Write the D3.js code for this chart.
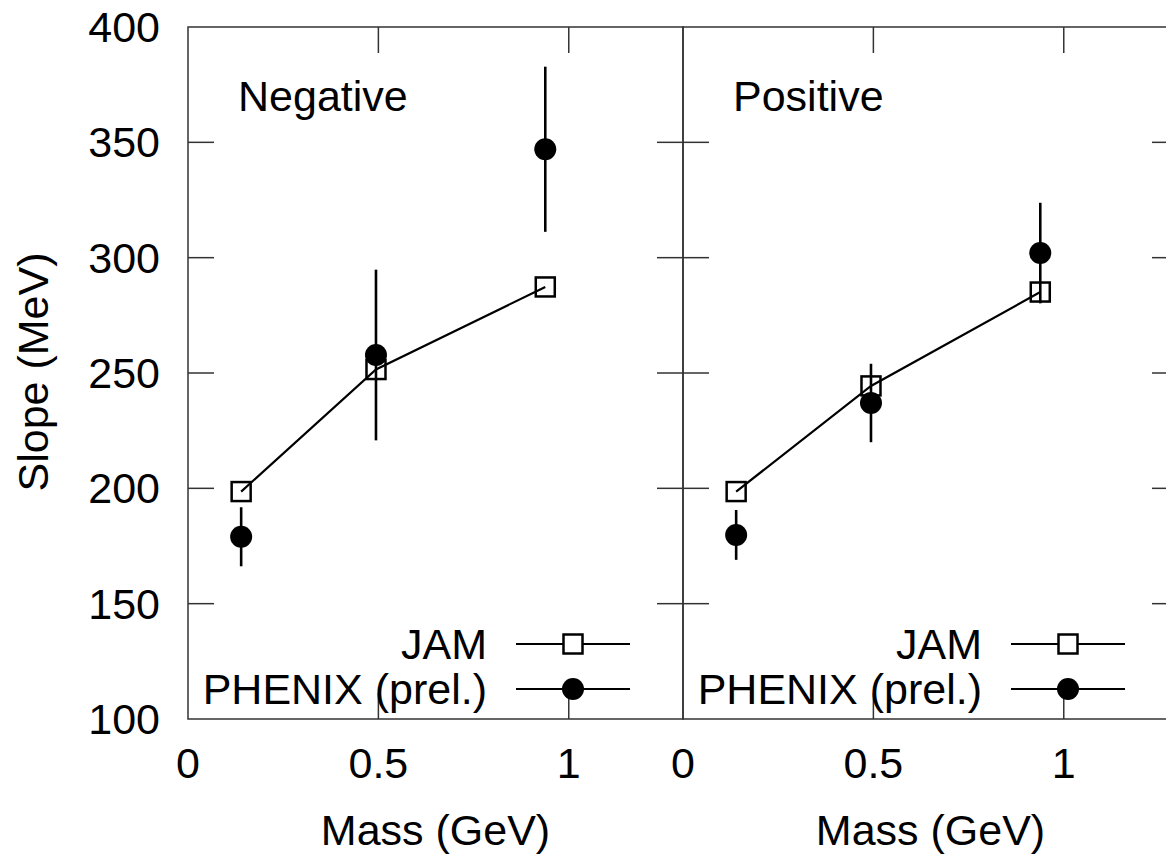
<!DOCTYPE html>
<html>

<head>
    <meta charset="utf-8">
    <title>Slope vs Mass</title>
    <script src="https://cdnjs.cloudflare.com/ajax/libs/d3/7.8.5/d3.min.js"></script>
    <style type="text/css">
    body {
        margin: 0;
        background: #fff;
    }
    svg text {
        font-family: "Liberation Sans", Arial, sans-serif;
        font-size: 43px;
        fill: #000;
    }
    .frame {
        fill: none;
        stroke: #333;
        stroke-width: 1.5px;
    }
    .tick-line {
        stroke: #333;
        stroke-width: 1.5px;
    }
    .jam-line {
        fill: none;
        stroke: #000;
        stroke-width: 2.2px;
    }
    </style>
</head>

<body>

</body>

<script>

// particle masses (GeV): pion, kaon, proton
var mass = [0.1396, 0.4937, 0.9383];

// negative particles
var negJAM = [198.6, 251.5, 287.3];
var negPHENIX = [179, 257.8, 347];
var negErr = [12.8, 37, 35.8];

// positive particles
var posJAM = [198.6, 244.4, 285.1];
var posPHENIX = [179.8, 237, 302];
var posErr = [10.8, 17, 21.8];

var panelTitles = ["Negative", "Positive"];
var xTicks = [0, 0.5, 1];
var yTicks = [100, 150, 200, 250, 300, 350, 400];
var legendLabels = ["JAM", "PHENIX (prel.)"];

var svg = d3.select("body").append("svg")
    .attr("width", 1166)
    .attr("height", 855);

var top0 = 27,
    bottom0 = 719,
    panelW = 495,
    tickLen = 26;

var y = d3.scaleLinear()
    .domain([100, 400])
    .range([bottom0, top0]);

var panels = [
    { x0: 188, title: panelTitles[0], jam: negJAM, phenix: negPHENIX, err: negErr },
    { x0: 683, title: panelTitles[1], jam: posJAM, phenix: posPHENIX, err: posErr }
];

var line = d3.line();

panels.forEach(function(p, pi) {
    var x = d3.scaleLinear()
        .domain([0, 1.3])
        .range([p.x0, p.x0 + panelW]);

    var g = svg.append("g");

    // frame
    g.append("rect")
        .attr("class", "frame")
        .attr("x", p.x0)
        .attr("y", top0)
        .attr("width", panelW)
        .attr("height", bottom0 - top0);

    // y ticks, inward on both sides
    yTicks.forEach(function(t) {
        if (t == 100 || t == 400) return;
        g.append("line").attr("class", "tick-line")
            .attr("x1", p.x0).attr("x2", p.x0 + tickLen)
            .attr("y1", y(t)).attr("y2", y(t));
        g.append("line").attr("class", "tick-line")
            .attr("x1", p.x0 + panelW - tickLen).attr("x2", p.x0 + panelW)
            .attr("y1", y(t)).attr("y2", y(t));
    });

    // y tick labels only on the left panel
    if (pi == 0) {
        g.selectAll(".ylab")
            .data(yTicks)
            .enter().append("text")
            .attr("x", 160)
            .attr("y", function(d) { return y(d) + 15; })
            .attr("text-anchor", "end")
            .text(function(d) { return d; });
    }

    // x ticks top and bottom
    xTicks.forEach(function(t) {
        if (t == 0) return;
        g.append("line").attr("class", "tick-line")
            .attr("x1", x(t)).attr("x2", x(t))
            .attr("y1", bottom0).attr("y2", bottom0 - tickLen);
        g.append("line").attr("class", "tick-line")
            .attr("x1", x(t)).attr("x2", x(t))
            .attr("y1", top0).attr("y2", top0 + tickLen);
    });

    g.selectAll(".xlab")
        .data(xTicks)
        .enter().append("text")
        .attr("x", function(d) { return x(d); })
        .attr("y", 778)
        .attr("text-anchor", "middle")
        .text(function(d) { return d; });

    g.append("text")
        .attr("x", p.x0 + panelW / 2)
        .attr("y", 845)
        .attr("text-anchor", "middle")
        .text("Mass (GeV)");

    g.append("text")
        .attr("x", p.x0 + 50)
        .attr("y", 111)
        .text(p.title);

    // JAM line and squares
    var pts = mass.map(function(m, i) { return [x(m), y(p.jam[i])]; });
    g.append("path")
        .attr("class", "jam-line")
        .attr("d", line(pts));
    g.selectAll(".sq")
        .data(pts)
        .enter().append("rect")
        .attr("x", function(d) { return d[0] - 9.5; })
        .attr("y", function(d) { return d[1] - 9.5; })
        .attr("width", 19)
        .attr("height", 19)
        .attr("fill", "none")
        .attr("stroke", "#000")
        .attr("stroke-width", 2.5);

    // PHENIX points with error bars
    mass.forEach(function(m, i) {
        g.append("line")
            .attr("x1", x(m)).attr("x2", x(m))
            .attr("y1", y(p.phenix[i] - p.err[i]))
            .attr("y2", y(p.phenix[i] + p.err[i]))
            .attr("stroke", "#000")
            .attr("stroke-width", 2.6);
        g.append("circle")
            .attr("cx", x(m))
            .attr("cy", y(p.phenix[i]))
            .attr("r", 11)
            .attr("fill", "#000");
    });

    // legend
    var lx = p.x0 + 299,
        ly = [644, 689];
    legendLabels.forEach(function(lab, i) {
        g.append("text")
            .attr("x", lx)
            .attr("y", ly[i] + 15)
            .attr("text-anchor", "end")
            .text(lab);
        g.append("line")
            .attr("x1", lx + 29).attr("x2", lx + 143)
            .attr("y1", ly[i]).attr("y2", ly[i])
            .attr("stroke", "#000")
            .attr("stroke-width", 2.2);
        if (i == 0) {
            g.append("rect")
                .attr("x", lx + 86 - 9.5).attr("y", ly[i] - 9.5)
                .attr("width", 19).attr("height", 19)
                .attr("fill", "#fff")
                .attr("stroke", "#000")
                .attr("stroke-width", 2.5);
        } else {
            g.append("circle")
                .attr("cx", lx + 86).attr("cy", ly[i])
                .attr("r", 11)
                .attr("fill", "#000");
        }
    });
});

svg.append("text")
    .attr("transform", "translate(48,372) rotate(-90)")
    .attr("text-anchor", "middle")
    .text("Slope (MeV)");

</script>

</html>
